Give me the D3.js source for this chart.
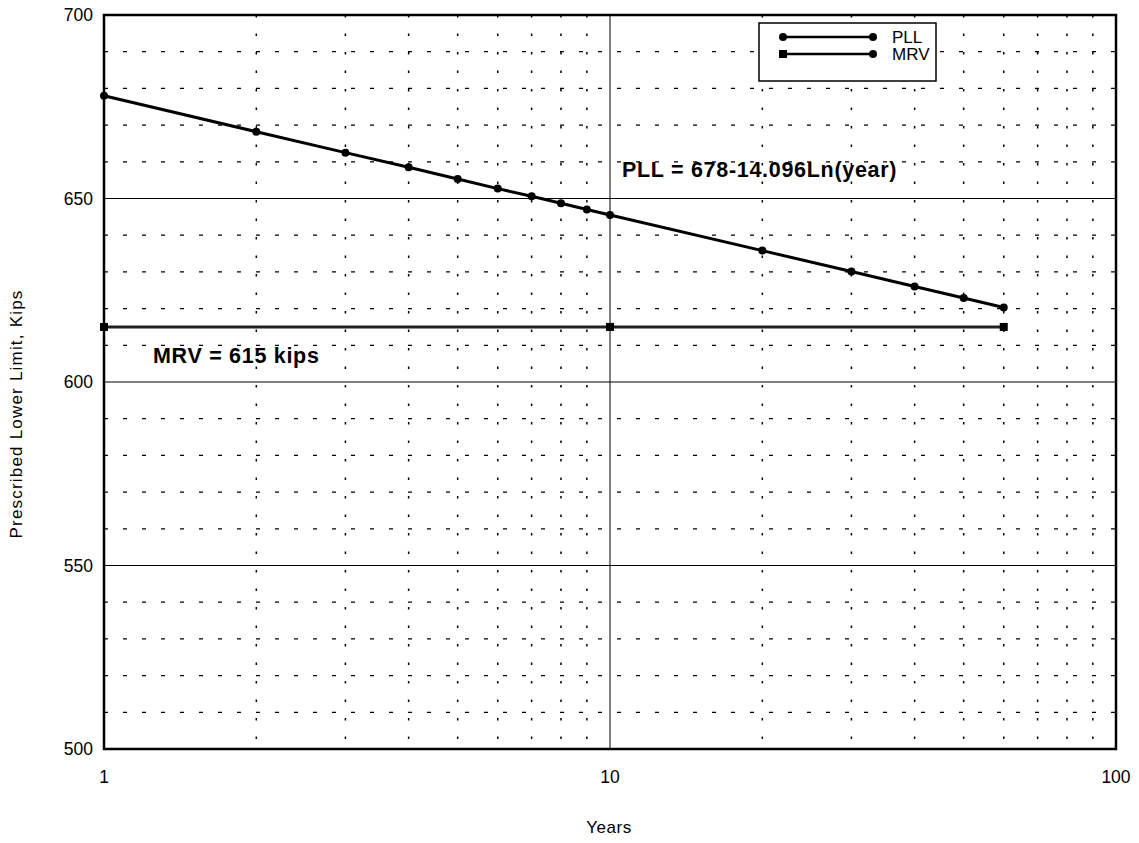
<!DOCTYPE html>
<html>
<head>
<meta charset="utf-8">
<script src="https://cdn.jsdelivr.net/npm/d3@7"></script>
<style>
  body { margin: 0; background: #fff; }
  text { font-family: "Liberation Sans", Arial, sans-serif; fill: #000; }
</style>
</head>
<body>
<svg id="chart" width="1139" height="843"></svg>
<script>
// values
let pllYears = [1, 2, 3, 4, 5, 6, 7, 8, 9, 10, 20, 30, 40, 50, 60];
let pllValues = [678, 668.2, 662.5, 658.5, 655.3, 652.7, 650.6, 648.7, 647.0, 645.5, 635.8, 630.1, 626.0, 622.9, 620.3];
let mrvYears = [1, 10, 60];
let mrvValues = [615, 615, 615];
let xTicks = [1, 10, 100];
let yTicks = [500, 550, 600, 650, 700];

let svg = d3.select('#chart');

let plotLeft = 104, plotRight = 1116, plotTop = 15, plotBottom = 749;

let x = d3.scaleLog().domain([1, 100]).range([plotLeft, plotRight]);
let y = d3.scaleLinear().domain([500, 700]).range([plotBottom, plotTop]);

// minor grid
let minorX = [];
for (let d = 1; d < 100; d *= 10)
	for (let k = 2; k < 10; k++) minorX.push(d * k);
let minorY = d3.range(510, 700, 10).filter(v => v % 50 != 0);

svg.append('g').selectAll('line')
	.data(minorY)
	.join('line')
	.attr('x1', plotLeft).attr('x2', plotRight)
	.attr('y1', d => y(d)).attr('y2', d => y(d))
	.attr('stroke', '#000').attr('stroke-width', 1.2)
	.attr('stroke-dasharray', '4,15');

svg.append('g').selectAll('line')
	.data(minorX)
	.join('line')
	.attr('x1', d => x(d)).attr('x2', d => x(d))
	.attr('y1', plotTop).attr('y2', plotBottom)
	.attr('stroke', '#000').attr('stroke-width', 1.5)
	.attr('stroke-dasharray', '2.5,16');

// major grid
svg.append('g').selectAll('line')
	.data([550, 600, 650])
	.join('line')
	.attr('x1', plotLeft).attr('x2', plotRight)
	.attr('y1', d => y(d)).attr('y2', d => y(d))
	.attr('stroke', '#000').attr('stroke-width', 1);

svg.append('line')
	.attr('x1', x(10)).attr('x2', x(10))
	.attr('y1', plotTop).attr('y2', plotBottom)
	.attr('stroke', '#000').attr('stroke-width', 1);

// frame
svg.append('rect')
	.attr('x', plotLeft).attr('y', plotTop)
	.attr('width', plotRight - plotLeft).attr('height', plotBottom - plotTop)
	.attr('fill', 'none').attr('stroke', '#000').attr('stroke-width', 2.5);

// axis labels
svg.append('g').selectAll('text')
	.data(yTicks)
	.join('text')
	.attr('x', plotLeft - 11).attr('y', d => y(d) + 6)
	.attr('text-anchor', 'end')
	.style('font-size', '17.5px')
	.text(d => d);

svg.append('g').selectAll('text')
	.data(xTicks)
	.join('text')
	.attr('x', d => x(d)).attr('y', plotBottom + 34)
	.attr('text-anchor', 'middle')
	.style('font-size', '17.5px')
	.text(d => d);

svg.append('text')
	.attr('x', 609).attr('y', 833)
	.attr('text-anchor', 'middle')
	.style('font-size', '17px')
	.style('letter-spacing', '0.5px')
	.text('Years');

svg.append('text')
	.attr('transform', 'translate(22,414) rotate(-90)')
	.attr('text-anchor', 'middle')
	.style('font-size', '17px')
	.style('letter-spacing', '1.2px')
	.text('Prescribed Lower Limit, Kips');

// series
let line = d3.line().x(d => x(d[0])).y(d => y(d[1]));
let pll = pllYears.map((d, i) => [d, pllValues[i]]);
let mrv = mrvYears.map((d, i) => [d, mrvValues[i]]);

svg.append('path')
	.datum(mrv)
	.attr('d', line)
	.attr('fill', 'none').attr('stroke', '#222').attr('stroke-width', 3);

svg.append('g').selectAll('rect')
	.data(mrv)
	.join('rect')
	.attr('x', d => x(d[0]) - 4).attr('y', d => y(d[1]) - 4)
	.attr('width', 8).attr('height', 8)
	.attr('fill', '#000');

svg.append('path')
	.datum(pll)
	.attr('d', line)
	.attr('fill', 'none').attr('stroke', '#000').attr('stroke-width', 3);

svg.append('g').selectAll('circle')
	.data(pll)
	.join('circle')
	.attr('cx', d => x(d[0])).attr('cy', d => y(d[1]))
	.attr('r', 4)
	.attr('fill', '#000');

// annotations
svg.append('text')
	.attr('x', 622).attr('y', 177)
	.style('font-size', '21.5px').style('font-weight', 'bold')
	.style('letter-spacing', '0.7px')
	.text('PLL = 678-14.096Ln(year)');

svg.append('text')
	.attr('x', 153).attr('y', 363)
	.style('font-size', '21.5px').style('font-weight', 'bold')
	.style('letter-spacing', '0.7px')
	.text('MRV = 615 kips');

// legend
let lg = svg.append('g');
lg.append('rect')
	.attr('x', 759).attr('y', 23).attr('width', 177).attr('height', 58)
	.attr('fill', '#fff').attr('stroke', '#000').attr('stroke-width', 1.5);

let legendItems = [
	{name: 'PLL', marker: 'circle', yy: 37},
	{name: 'MRV', marker: 'square', yy: 54}
];
legendItems.forEach(function(it) {
	lg.append('line')
		.attr('x1', 783).attr('x2', 873)
		.attr('y1', it.yy).attr('y2', it.yy)
		.attr('stroke', '#000').attr('stroke-width', 2.5);
	if (it.marker == 'circle') {
		lg.append('circle').attr('cx', 783).attr('cy', it.yy).attr('r', 4).attr('fill', '#000');
	} else {
		lg.append('rect').attr('x', 779).attr('y', it.yy - 4).attr('width', 8).attr('height', 8).attr('fill', '#000');
	}
	lg.append('circle').attr('cx', 873).attr('cy', it.yy).attr('r', 4).attr('fill', '#000');
	lg.append('text')
		.attr('x', 892).attr('y', it.yy + 6)
		.style('font-size', '17px')
		.text(it.name);
});
</script>
</body>
</html>
